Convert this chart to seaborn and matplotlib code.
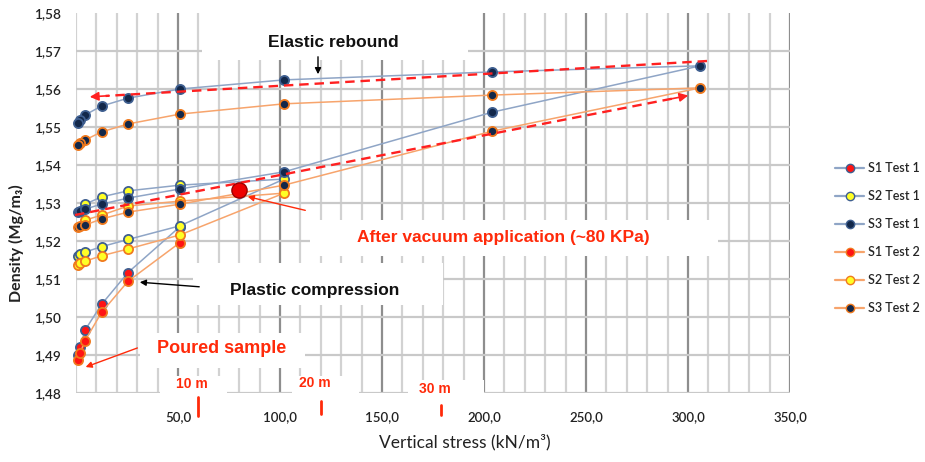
import matplotlib
matplotlib.use("Agg")
import matplotlib.pyplot as plt
import pandas as pd
import seaborn as sns
from matplotlib.lines import Line2D
from matplotlib.patches import Rectangle
from matplotlib.ticker import FuncFormatter, MultipleLocator

sns.set_theme(style="white")
plt.rcParams["font.family"] = ["Lato", "DejaVu Sans"]

# ---------------- data (vertical stress kN/m2, density Mg/m3) ----------------
S1_STRESS = [1, 2, 4.5, 12.5, 25.5, 51]
S1_T1_DENS = [1.4900, 1.4921, 1.4966, 1.5033, 1.5117, 1.5238]
S1_T2_DENS = [1.4888, 1.4905, 1.4938, 1.5012, 1.5094, 1.5196]

S2_STRESS = [1, 2, 4.5, 12.5, 25.5, 51, 102, 51, 25.5, 12.5, 4.5]
S2_T1_DENS = [1.5160, 1.5165, 1.5171, 1.5185, 1.5204, 1.5240, 1.5363, 1.5347, 1.5332, 1.5316, 1.5297]
S2_T2_DENS = [1.5137, 1.5142, 1.5147, 1.5161, 1.5179, 1.5216, 1.5326, 1.5305, 1.5292, 1.5268, 1.5255]

S3_STRESS = [1, 2, 4.5, 12.5, 25.5, 51, 102, 204, 306, 204, 102, 51, 25.5, 12.5, 4.5, 2, 1]
S3_T1_DENS = [1.5276, 1.5279, 1.5284, 1.5297, 1.5313, 1.5337, 1.5382, 1.5539, 1.5661,
              1.5645, 1.5624, 1.5600, 1.5576, 1.5555, 1.5532, 1.5518, 1.5511]
S3_T2_DENS = [1.5237, 1.5239, 1.5242, 1.5258, 1.5276, 1.5297, 1.5347, 1.5489, 1.5603,
              1.5584, 1.5561, 1.5534, 1.5508, 1.5487, 1.5466, 1.5458, 1.5453]

VACUUM_STRESS = [80]
VACUUM_DENS = [1.5335]

SERIES_NAMES = ["S1 Test 1", "S2 Test 1", "S3 Test 1", "S1 Test 2", "S2 Test 2", "S3 Test 2"]
DEPTH_LABELS = ["10 m", "20 m", "30 m"]
DEPTH_STRESS = [60, 120, 179]
X_TICKS = [50, 100, 150, 200, 250, 300, 350]
Y_TICKS = [1.48, 1.49, 1.50, 1.51, 1.52, 1.53, 1.54, 1.55, 1.56, 1.57, 1.58]

# ---------------- styles ----------------
LINE_T1, EDGE_T1 = "#8fa5c6", "#3f5f90"
LINE_T2, EDGE_T2 = "#f7a46c", "#f07a1e"
FILL = {"S1": "#ff1414", "S2": "#ffff26", "S3": "#13284a"}

frames = []
for name, xs, ys in [
    ("S1 Test 1", S1_STRESS, S1_T1_DENS), ("S1 Test 2", S1_STRESS, S1_T2_DENS),
    ("S2 Test 1", S2_STRESS, S2_T1_DENS), ("S2 Test 2", S2_STRESS, S2_T2_DENS),
    ("S3 Test 1", S3_STRESS, S3_T1_DENS), ("S3 Test 2", S3_STRESS, S3_T2_DENS),
]:
    frames.append(pd.DataFrame({"stress": xs, "density": ys, "series": name, "step": range(len(xs))}))
df = pd.concat(frames, ignore_index=True)

W, H = 925, 462
fig = plt.figure(figsize=(W / 100, H / 100), dpi=100)
X0, XPU = 76, 2.04      # pixel of x=0, pixels per unit
YTOP, YBOT = 13, 393
ax = fig.add_axes([X0 / W, (H - YBOT) / H, 350 * XPU / W, (YBOT - YTOP) / H])


def px_x(p):
    return (p - X0) / XPU


def px_y(p):
    return 1.58 - (p - YTOP) / (YBOT - YTOP) * 0.10


ax.set_xlim(0, 350)
ax.set_ylim(1.48, 1.58)
ax.set_axisbelow(True)
ax.xaxis.set_major_locator(MultipleLocator(50))
ax.xaxis.set_minor_locator(MultipleLocator(10))
ax.set_xticks(X_TICKS)
ax.set_yticks(Y_TICKS)
ax.grid(which="minor", axis="x", color="#d2d2d2", lw=1.6)
ax.grid(which="major", axis="x", color="#8e8e8e", lw=1.6)
ax.grid(which="major", axis="y", color="#c9c9c9", lw=1.6)
ax.yaxis.get_gridlines()[-1].set_visible(False)
for s in ax.spines.values():
    s.set_visible(False)
ax.xaxis.set_major_formatter(FuncFormatter(lambda v, p: f"{v:.1f}".replace(".", ",")))
ax.yaxis.set_major_formatter(FuncFormatter(lambda v, p: f"{v:.2f}".replace(".", ",")))
ax.tick_params(axis="x", which="both", length=0, pad=13, labelsize=9.5, labelcolor="#222222")
ax.tick_params(axis="y", length=0, pad=11, labelsize=9.8, labelcolor="#222222")
for t in ax.get_yticklabels() + ax.get_xticklabels():
    t.set_fontweight("semibold")

# white boxes behind annotations (hide grid)
for (xa, xb, ya, yb) in [(202, 468, 13, 60), (310, 718, 220, 256), (193, 443, 263, 305),
                         (140, 305, 333, 368), (160, 227, 376, 397), (292, 359, 376, 397),
                         (408, 484, 380, 397)]:
    ax.add_patch(Rectangle((px_x(xa), px_y(yb)), px_x(xb) - px_x(xa), px_y(ya) - px_y(yb),
                           facecolor="white", edgecolor="none", zorder=1.5, clip_on=False))

# ---------------- series ----------------
order = ["S1 Test 1", "S1 Test 2", "S2 Test 1", "S2 Test 2", "S3 Test 1", "S3 Test 2"]
for name in order:
    sub = df[df.series == name]
    t1 = name.endswith("1")
    sns.lineplot(data=sub, x="stress", y="density", ax=ax, estimator=None, sort=False,
                 color=LINE_T1 if t1 else LINE_T2, lw=1.1, marker="o", markersize=6.6,
                 markerfacecolor=FILL[name[:2]], markeredgecolor=EDGE_T1 if t1 else EDGE_T2,
                 markeredgewidth=1.3, clip_on=False, zorder=3, legend=False)

sns.scatterplot(x=VACUUM_STRESS, y=VACUUM_DENS, ax=ax, s=120, color="#ee0000",
                edgecolor="#9a0000", linewidth=1.0, zorder=4, legend=False)

ax.set_xlabel("")
ax.set_ylabel("")

# ---------------- red dashed trend arrows (start px, end px) ----------------
RED = "#ff2020"
for (xs, ys, xe, ye) in [(707, 61, 87, 97), (75, 215, 691, 95)]:
    x1, y1, x2, y2 = px_x(xs), px_y(ys), px_x(xe), px_y(ye)
    ax.plot([x1, x1 + 0.97 * (x2 - x1)], [y1, y1 + 0.97 * (y2 - y1)], color=RED, lw=1.7,
            ls=(0, (4, 2.5)), zorder=3.5, clip_on=False)
    ax.annotate("", xy=(x2, y2), xytext=(x1 + 0.96 * (x2 - x1), y1 + 0.96 * (y2 - y1)),
                arrowprops=dict(arrowstyle="-|>", color=RED, lw=1.2, mutation_scale=13), zorder=3.6)

# ---------------- annotations ----------------
ax.text(px_x(333), px_y(43), "Elastic rebound", ha="center", va="center", fontsize=12.5,
        fontweight="bold", family="Liberation Sans", color="#111111", zorder=5)
ax.annotate("", xy=(px_x(318), px_y(77)), xytext=(px_x(318), px_y(54)),
            arrowprops=dict(arrowstyle="-|>", color="black", lw=1.0, mutation_scale=9), zorder=5)

ax.text(px_x(315), px_y(291), "Plastic compression", ha="center", va="center", fontsize=12.5,
        fontweight="bold", family="Liberation Sans", color="#111111", zorder=5)
ax.annotate("", xy=(px_x(137), px_y(282)), xytext=(px_x(202), px_y(287)),
            arrowprops=dict(arrowstyle="-|>", color="black", lw=1.0, mutation_scale=9), zorder=5)

ax.text(px_x(503), px_y(238), "After vacuum application (~80 KPa)", ha="center", va="center",
        fontsize=12.5, fontweight="bold", family="Liberation Sans", color="#ff2a0a", zorder=5)
ax.annotate("", xy=(px_x(245), px_y(196)), xytext=(px_x(308), px_y(211)),
            arrowprops=dict(arrowstyle="-|>", color="#ff2a0a", lw=1.0, mutation_scale=9), zorder=5)

ax.text(px_x(222), px_y(349), "Poured sample", ha="center", va="center", fontsize=13,
        fontweight="bold", family="Liberation Sans", color="#ff2a0a", zorder=5)
ax.annotate("", xy=(px_x(83), px_y(368)), xytext=(px_x(140), px_y(347)),
            arrowprops=dict(arrowstyle="-|>", color="#ff2a0a", lw=1.0, mutation_scale=9), zorder=5)

trans = ax.get_xaxis_transform()
for lab, st, ty, t0, t1_ in zip(DEPTH_LABELS, DEPTH_STRESS, [384, 383, 389], [397, 401, 405], [416, 414, 415]):
    ax.text(st - 3, (YBOT - ty) / (YBOT - YTOP), lab, transform=trans, ha="center", va="center",
            fontsize=10, fontweight="bold", family="Liberation Sans", color="#ff2a0a", zorder=5,
            clip_on=False)
    ax.plot([st, st], [(YBOT - t0) / (YBOT - YTOP), (YBOT - t1_) / (YBOT - YTOP)], transform=trans,
            color="#ff2a0a", lw=2.0, clip_on=False, zorder=5)

# axis titles
fig.text(465 / W, 1 - 442 / H, "Vertical stress (kN/m³)", ha="center", va="center", fontsize=12.5,
         color="#222222")
fig.text(16 / W, 1 - 243 / H, "Density (Mg/m₃)", ha="center", va="center", rotation=90,
         fontsize=11.5, fontweight="bold", color="#222222")

# legend
handles = []
for name in SERIES_NAMES:
    t1 = name.endswith("1")
    handles.append(Line2D([], [], color=LINE_T1 if t1 else LINE_T2, lw=1.6, marker="o", markersize=6,
                          markerfacecolor=FILL[name[:2]],
                          markeredgecolor=EDGE_T1 if t1 else EDGE_T2, markeredgewidth=1.0))
fig.legend(handles, SERIES_NAMES, loc="upper left", bbox_to_anchor=(829 / W, 1 - 156 / H),
           frameon=False, handlelength=2.3, handletextpad=0.35, labelspacing=1.28,
           borderpad=0, prop={"weight": "semibold", "size": 9})

fig.savefig("out.png", dpi=100)
